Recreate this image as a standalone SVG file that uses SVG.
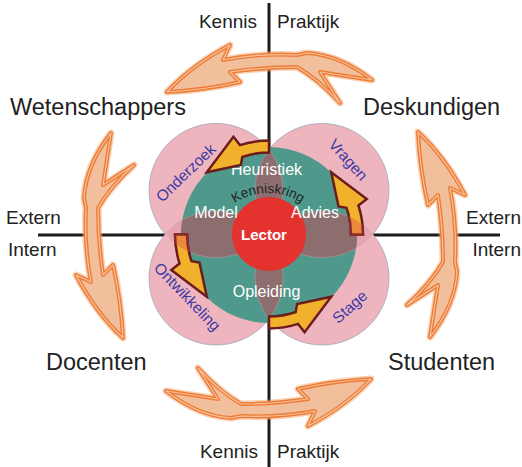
<svg xmlns="http://www.w3.org/2000/svg" xmlns:xlink="http://www.w3.org/1999/xlink" width="522" height="467" viewBox="0 0 522 467">
<style>
.axis{stroke:#1c1c1c;stroke-width:3;fill:none}
.lbl{font-family:"Liberation Sans",Arial,sans-serif;fill:#222}
.big{font-size:23.5px}
.sm{font-size:19px}
.in{font-family:"Liberation Sans",Arial,sans-serif;font-size:16px;fill:#ffffff;text-anchor:middle}
.pur{font-family:"Liberation Sans",Arial,sans-serif;font-size:15.5px;fill:#3d3aa5;text-anchor:middle}
.pink{fill:#efb5bf;stroke:#9ea7b8;stroke-width:0.8}
.lensout{fill:#e8a3b0}
.lensin{fill:#8d6e6f;stroke:#b89a9c;stroke-width:0.6}
.ya{fill:#f2b12c;stroke:#6b1d1d;stroke-width:2.5;stroke-linejoin:miter}
.glow{fill:none;stroke:#f4a46e;stroke-width:7;stroke-opacity:0.5;stroke-linejoin:round}
.oline{fill:#f1bf9b;stroke:#ed7c35;stroke-width:4;stroke-linejoin:round}
.ohl{fill:none;stroke:#f8c3a0;stroke-width:1.2;stroke-linejoin:round}
</style>
<defs>
<path id="bigArrow" d="M -103,17 Q -78,-10 -40,-30 L -47,-15 Q -10,-22 27,-20 L 37,-22 Q 70,-20 102,5 L 50,-3 L 70,28 Q 48,4 27,-8 Q -5,-8 -40,-3 L -30,7 Q -65,15 -103,17 Z"/>
<path id="yArrow" d="M 94,0 A 94 94 0 0 0 89.4,-29.05 L 97.73,-35.57 L 62.23,-62.23 L 69.54,-28.1 L 77.53,-26.7 A 82 82 0 0 1 82,0 Z"/>
<path id="lensV1" d="M 269,149.5 A 67 67 0 0 1 269,231.5 A 67 67 0 0 1 269,149.5 Z"/>
<path id="lensV2" d="M 269,237 A 67 67 0 0 1 269,319 A 67 67 0 0 1 269,237 Z"/>
<path id="lensH1" d="M 165.26,234.25 A 67 67 0 0 1 266.74,234.25 A 67 67 0 0 1 165.26,234.25 Z"/>
<path id="lensH2" d="M 271.26,234.25 A 67 67 0 0 1 372.74,234.25 A 67 67 0 0 1 271.26,234.25 Z"/>
<clipPath id="tealClip"><circle cx="269" cy="235" r="88"/></clipPath>
<clipPath id="lensClip"><use xlink:href="#lensH1"/><use xlink:href="#lensH2"/></clipPath>
<path id="kArc" d="M 208,253 A 60 60 0 0 1 328,253"/>
</defs>

<g id="axes">
<line class="axis" x1="269" y1="3" x2="269" y2="467"/>
<line class="axis" x1="38" y1="235" x2="500" y2="235"/>
</g>

<g id="connectors">
<g id="arrow-top" transform="translate(270,75)">
<use xlink:href="#bigArrow" class="glow"/><use xlink:href="#bigArrow" class="oline"/><use xlink:href="#bigArrow" class="ohl"/>
</g>
<g id="arrow-left" transform="translate(106,235) rotate(-90)">
<use xlink:href="#bigArrow" class="glow"/><use xlink:href="#bigArrow" class="oline"/><use xlink:href="#bigArrow" class="ohl"/>
</g>
<g id="arrow-bottom" transform="translate(268,396) rotate(180)">
<use xlink:href="#bigArrow" class="glow"/><use xlink:href="#bigArrow" class="oline"/><use xlink:href="#bigArrow" class="ohl"/>
</g>
<g id="arrow-right" transform="translate(435,235) rotate(90)">
<use xlink:href="#bigArrow" class="glow"/><use xlink:href="#bigArrow" class="oline"/><use xlink:href="#bigArrow" class="ohl"/>
</g>
</g>

<g id="circles">
<circle class="pink" cx="216" cy="190.5" r="67"/>
<circle class="pink" cx="322" cy="190.5" r="67"/>
<circle class="pink" cx="216" cy="278" r="67"/>
<circle class="pink" cx="322" cy="278" r="67"/>
<use xlink:href="#lensV1" class="lensout"/>
<use xlink:href="#lensV2" class="lensout"/>
<use xlink:href="#lensH1" class="lensout"/>
<use xlink:href="#lensH2" class="lensout"/>
</g>

<g id="kenniskring">
<circle cx="269" cy="235" r="88" fill="#4f998c"/>
<g clip-path="url(#tealClip)">
<use xlink:href="#lensV1" class="lensin"/>
<use xlink:href="#lensV2" class="lensin"/>
<use xlink:href="#lensH1" class="lensin"/>
<use xlink:href="#lensH2" class="lensin"/>
</g>
</g>

<g id="lector">
<circle cx="269" cy="234" r="37" fill="#e4322f"/>
<text x="264" y="240" font-family="Liberation Sans,Arial,sans-serif" font-size="15" font-weight="bold" fill="#ffffff" text-anchor="middle">Lector</text>
</g>

<g id="kenniskring-labels">
<text class="lbl" font-size="13.5" fill="#2b2b2b"><textPath xlink:href="#kArc" startOffset="50%" text-anchor="middle">Kenniskring</textPath></text>
<text class="in" x="266.5" y="175">Heuristiek</text>
<text class="in" x="216" y="218">Model</text>
<text class="in" x="315" y="218">Advies</text>
<text class="in" x="266.5" y="297">Opleiding</text>
</g>

<g id="cycle-arrows">
<g transform="translate(269,234.5)">
<use xlink:href="#yArrow" class="ya"/>
<use xlink:href="#yArrow" class="ya" transform="rotate(-90)"/>
<use xlink:href="#yArrow" class="ya" transform="rotate(180)"/>
<use xlink:href="#yArrow" class="ya" transform="rotate(90)"/>
</g>
<g clip-path="url(#lensClip)">
<g transform="translate(269,234.5)">
<use xlink:href="#yArrow" fill="#ec8a3c" stroke="#8a2a2a" stroke-width="2.5"/>
<use xlink:href="#yArrow" fill="#ec8a3c" stroke="#8a2a2a" stroke-width="2.5" transform="rotate(180)"/>
</g>
</g>
</g>

<g id="quadrant-labels">
<text class="pur" transform="translate(186,173) rotate(-44)" dy="5">Onderzoek</text>
<text class="pur" transform="translate(348,160) rotate(48)" dy="5">Vragen</text>
<text class="pur" transform="translate(187,297) rotate(46)" dy="5">Ontwikkeling</text>
<text class="pur" transform="translate(350,307) rotate(-42)" dy="5">Stage</text>
</g>

<g id="Wetenschappers"><text class="lbl big" x="10" y="115">Wetenschappers</text></g>
<g id="Deskundigen"><text class="lbl big" x="363" y="115">Deskundigen</text></g>
<g id="Docenten"><text class="lbl big" x="46" y="370">Docenten</text></g>
<g id="Studenten"><text class="lbl big" x="388" y="370">Studenten</text></g>

<g id="axis-labels">
<text class="lbl sm" x="257" y="28" text-anchor="end">Kennis</text>
<text class="lbl sm" x="277" y="28">Praktijk</text>
<text class="lbl sm" x="258" y="458" text-anchor="end">Kennis</text>
<text class="lbl sm" x="277" y="458">Praktijk</text>
<text class="lbl sm" x="6" y="224">Extern</text>
<text class="lbl sm" x="8" y="256">Intern</text>
<text class="lbl sm" x="521" y="224" text-anchor="end">Extern</text>
<text class="lbl sm" x="521" y="256" text-anchor="end">Intern</text>
</g>
</svg>
